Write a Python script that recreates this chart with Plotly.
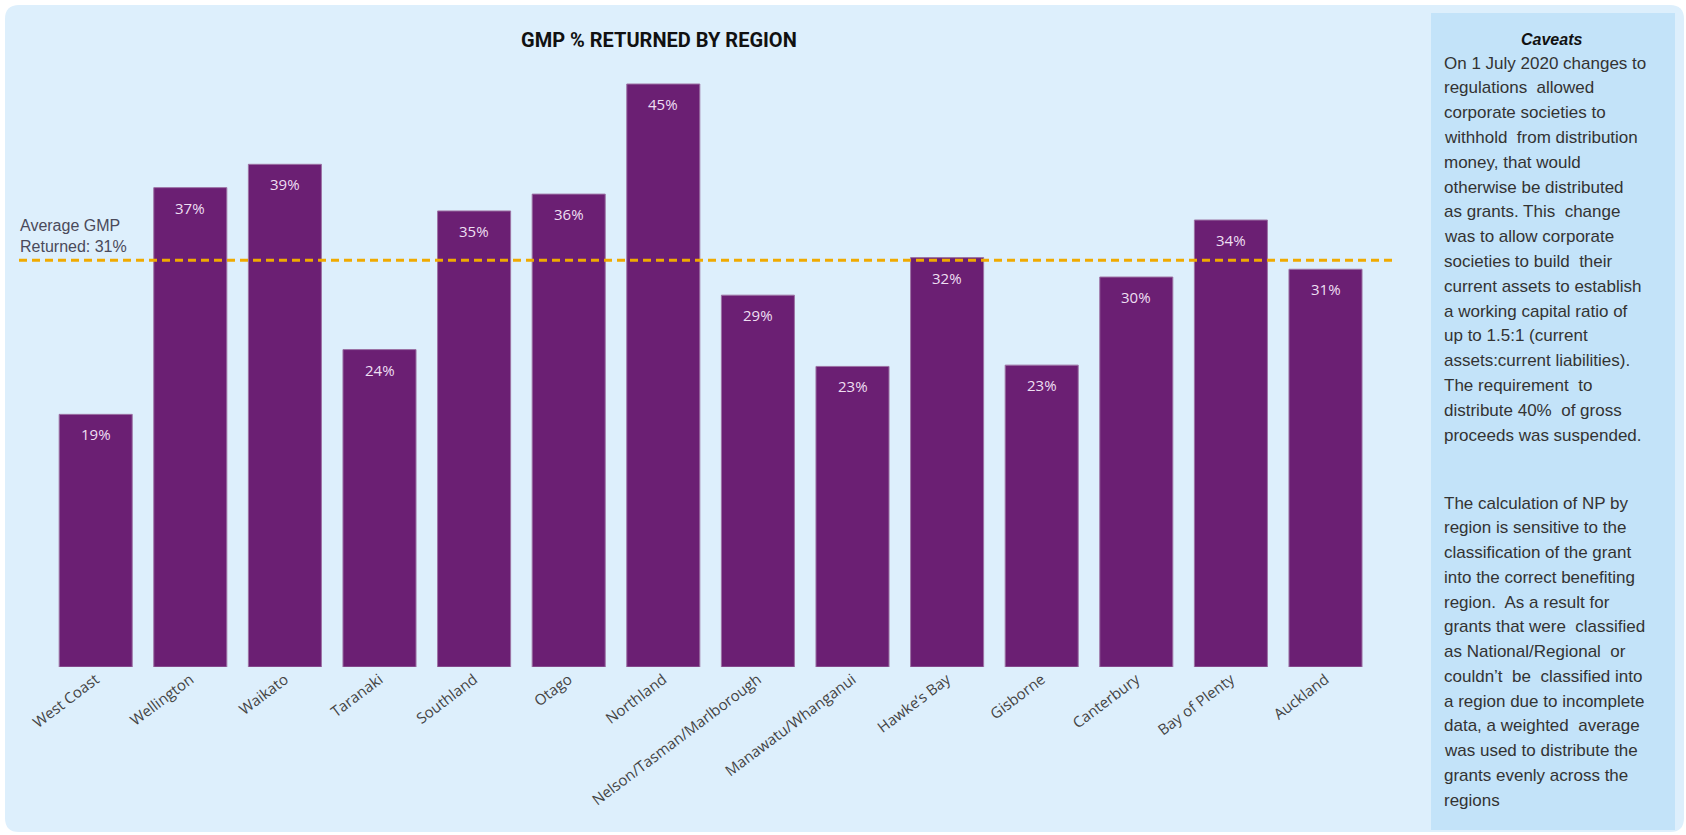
import plotly.graph_objects as go

# ---------------- data ----------------
regions = ["West Coast", "Wellington", "Waikato", "Taranaki", "Southland", "Otago",
           "Northland", "Nelson/Tasman/Marlborough", "Manawatu/Whanganui",
           "Hawke\u2019s Bay", "Gisborne", "Canterbury", "Bay of Plenty", "Auckland"]
gmp_returned = [19.5, 37.0, 38.8, 24.5, 35.2, 36.5, 45.0, 28.7, 23.2, 31.6, 23.3, 30.1, 34.5, 30.7]
value_labels = ["19%", "37%", "39%", "24%", "35%", "36%", "45%", "29%", "23%",
                "32%", "23%", "30%", "34%", "31%"]
average_value = 31.4
average_label = ["Average GMP", "Returned: 31%"]
title_text = "GMP % RETURNED BY REGION"
caveats_title = "Caveats"
caveats_p1 = ["On 1 July 2020 changes to", "regulations  allowed", "corporate societies to",
              "withhold  from distribution", "money, that would", "otherwise be distributed",
              "as grants. This  change", "was to allow corporate", "societies to build  their",
              "current assets to establish", "a working capital ratio of", "up to 1.5:1 (current",
              "assets:current liabilities).", "The requirement  to", "distribute 40%  of gross",
              "proceeds was suspended."]
caveats_p2 = ["The calculation of NP by", "region is sensitive to the",
              "classification of the grant", "into the correct benefiting",
              "region.  As a result for", "grants that were  classified",
              "as National/Regional  or", "couldn\u2019t  be  classified into",
              "a region due to incomplete", "data, a weighted  average",
              "was used to distribute the", "grants evenly across the", "regions"]

# ---------------- geometry ----------------
W, H = 1686, 835
L, R, T, B = 19, 1395, 60, 667
px_per_pct = (667 - 84) / 45.0
ymax = (B - T) / px_per_pct


def pxx(x):
    return (x - L) / (R - L)


def pyy(y):
    return (B - y) / (B - T)


BAR = "#6B1F73"
BG = "#DDEFFC"
BOX = "#C3E3F9"
AVG = "#F0AA00"
TXT_FONT = "Liberation Sans, Arial, sans-serif"

fig = go.Figure()
fig.add_trace(go.Bar(
    x=regions, y=gmp_returned,
    marker=dict(color=BAR, line=dict(color="#9C72A4", width=1)),
    hoverinfo="x+y",
))


def rounded_path(x0, y0, x1, y1, r):
    pts = [
        f"M {pxx(x0 + r)} {pyy(y0)}",
        f"L {pxx(x1 - r)} {pyy(y0)}",
        f"Q {pxx(x1)} {pyy(y0)} {pxx(x1)} {pyy(y0 + r)}",
        f"L {pxx(x1)} {pyy(y1 - r)}",
        f"Q {pxx(x1)} {pyy(y1)} {pxx(x1 - r)} {pyy(y1)}",
        f"L {pxx(x0 + r)} {pyy(y1)}",
        f"Q {pxx(x0)} {pyy(y1)} {pxx(x0)} {pyy(y1 - r)}",
        f"L {pxx(x0)} {pyy(y0 + r)}",
        f"Q {pxx(x0)} {pyy(y0)} {pxx(x0 + r)} {pyy(y0)}",
        "Z",
    ]
    return " ".join(pts)


shapes = [
    dict(type="path", xref="paper", yref="paper", path=rounded_path(5, 5, 1684, 832, 14),
         fillcolor=BG, line=dict(width=0), layer="below"),
    dict(type="rect", xref="paper", yref="paper",
         x0=pxx(1431), x1=pxx(1675), y0=pyy(13), y1=pyy(830),
         fillcolor=BOX, line=dict(width=0), layer="below"),
    dict(type="line", xref="paper", yref="y", x0=0, x1=1, y0=average_value, y1=average_value,
         line=dict(color=AVG, width=3, dash="8px,5px"), layer="above"),
]

annotations = []
for r_, v, lab in zip(regions, gmp_returned, value_labels):
    annotations.append(dict(x=r_, y=v, xref="x", yref="y", text=lab, showarrow=False,
                            yshift=-20, font=dict(family="Open Sans", size=15, color="#EEDFF2")))
annotations.append(dict(x=pxx(659), y=pyy(40), xref="paper", yref="paper", text=f"<b>{title_text}</b>",
                        showarrow=False, xanchor="center", yanchor="middle",
                        font=dict(family="Roboto, sans-serif", size=20, color="#111111")))
annotations.append(dict(x=pxx(18), y=pyy(236), xref="paper", yref="paper",
                        text="<br>".join(average_label), align="left",
                        showarrow=False, xanchor="left", yanchor="middle",
                        font=dict(family=TXT_FONT, size=16, color="#4A4A5A")))
annotations.append(dict(x=pxx(1551), y=pyy(40), xref="paper", yref="paper", text=f"<b><i>{caveats_title}</i></b>",
                        showarrow=False, xanchor="center", yanchor="middle",
                        font=dict(family=TXT_FONT, size=16, color="#111111")))
for i, line in enumerate(caveats_p1):
    annotations.append(dict(x=pxx(1442), y=pyy(63 + 24.8 * i), xref="paper", yref="paper", text=line,
                            showarrow=False, xanchor="left", yanchor="middle",
                            font=dict(family=TXT_FONT, size=17, color="#333333")))
for i, line in enumerate(caveats_p2):
    annotations.append(dict(x=pxx(1442), y=pyy(503 + 24.75 * i), xref="paper", yref="paper", text=line,
                            showarrow=False, xanchor="left", yanchor="middle",
                            font=dict(family=TXT_FONT, size=17, color="#333333")))

pitch = 94.6
first_center = 95.7
x0_range = -(first_center - L) / pitch
x1_range = x0_range + (R - L) / pitch

fig.update_layout(
    width=W, height=H,
    margin=dict(l=L, r=W - R, t=T, b=H - B, pad=0),
    paper_bgcolor="white", plot_bgcolor="rgba(0,0,0,0)",
    showlegend=False, bargap=0.228,
    shapes=shapes, annotations=annotations,
    xaxis=dict(range=[x0_range, x1_range], showgrid=False, zeroline=False, showline=False,
               ticks="", tickangle=-37,
               tickfont=dict(family="Open Sans", size=15, color="#444444")),
    yaxis=dict(range=[0, ymax], showgrid=False, zeroline=False, showline=False,
               showticklabels=False, ticks=""),
)

fig.write_html("out.html", config={"displayModeBar": False},
               post_script="document.body.style.margin='0';document.body.style.overflow='hidden';")
